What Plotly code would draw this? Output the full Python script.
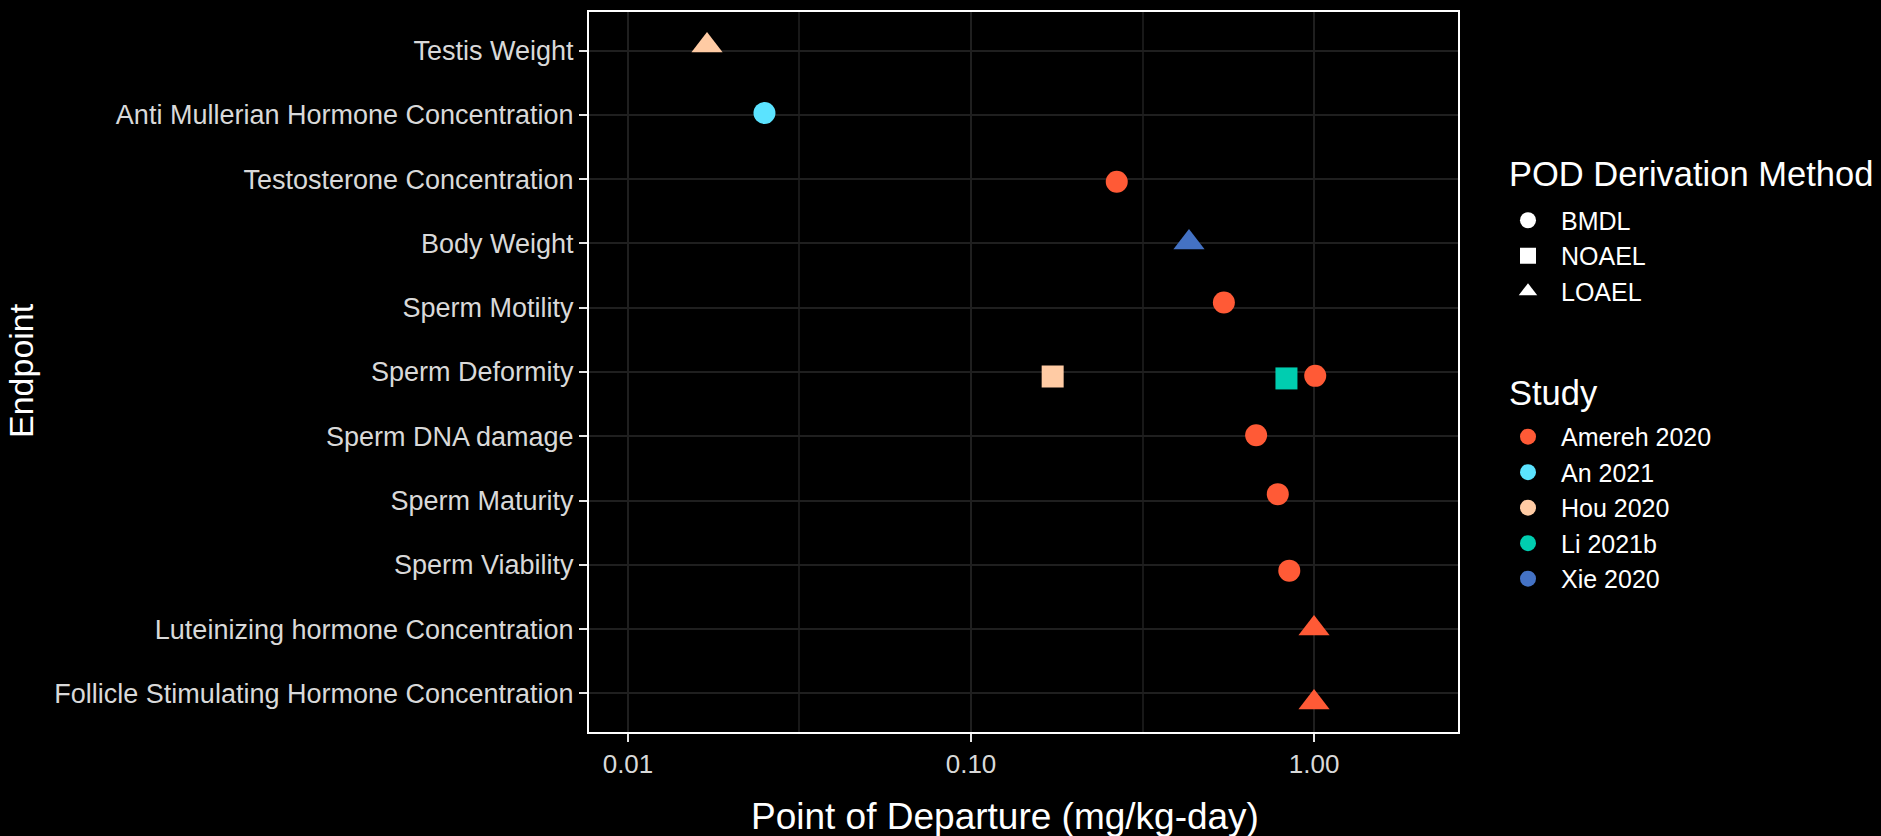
import plotly.graph_objects as go

# ---------------- data ----------------
endpoints = [
    "Testis Weight",
    "Anti Mullerian Hormone Concentration",
    "Testosterone Concentration",
    "Body Weight",
    "Sperm Motility",
    "Sperm Deformity",
    "Sperm DNA damage",
    "Sperm Maturity",
    "Sperm Viability",
    "Luteinizing hormone Concentration",
    "Follicle Stimulating Hormone Concentration",
]

point_endpoint = [
    "Testis Weight", "Anti Mullerian Hormone Concentration", "Testosterone Concentration",
    "Body Weight", "Sperm Motility", "Sperm Deformity", "Sperm Deformity", "Sperm Deformity",
    "Sperm DNA damage", "Sperm Maturity", "Sperm Viability",
    "Luteinizing hormone Concentration", "Follicle Stimulating Hormone Concentration",
]
point_study = [
    "Hou 2020", "An 2021", "Amereh 2020", "Xie 2020", "Amereh 2020", "Hou 2020", "Li 2021b",
    "Amereh 2020", "Amereh 2020", "Amereh 2020", "Amereh 2020", "Amereh 2020", "Amereh 2020",
]
point_method = [
    "LOAEL", "BMDL", "BMDL", "LOAEL", "BMDL", "NOAEL", "NOAEL",
    "BMDL", "BMDL", "BMDL", "BMDL", "LOAEL", "LOAEL",
]
point_pod = [0.017, 0.025, 0.266, 0.432, 0.546, 0.173, 0.831, 1.008, 0.678, 0.784, 0.847, 1.0, 1.0]
# vertical jitter (in category units, positive = downward)
y_jitter = [-0.08, -0.03, 0.04, -0.015, -0.08, 0.07, 0.10, 0.06, -0.015, -0.10, 0.09, -0.01, 0.14]

studies = ["Amereh 2020", "An 2021", "Hou 2020", "Li 2021b", "Xie 2020"]
study_colors = ["#FF5A36", "#5BE3FF", "#FFCBA4", "#00CDB0", "#4472C4"]
methods = ["BMDL", "NOAEL", "LOAEL"]
method_symbols = ["circle", "square", "triangle-up"]
method_sizes = [22, 22, 27]

x_tickvals = [0.01, 0.1, 1.0]
x_ticktext = ["0.01", "0.10", "1.00"]
x_minor = [10 ** -1.5, 10 ** -0.5]

shape_legend_title = "POD Derivation Method"
color_legend_title = "Study"
x_title = "Point of Departure (mg/kg-day)"
y_title = "Endpoint"

FONT = "Liberation Sans, Arial, sans-serif"
TICKC = "#D9D9D9"
GRID = "#1F1F1F"

fig = go.Figure()

sym_of = dict(zip(methods, method_symbols))
size_of = dict(zip(methods, method_sizes))
col_of = dict(zip(studies, study_colors))

for st in studies:
    idx = [i for i, s in enumerate(point_study) if s == st]
    fig.add_trace(go.Scatter(
        x=[point_pod[i] for i in idx],
        y=[endpoints.index(point_endpoint[i]) + y_jitter[i] for i in idx],
        mode="markers",
        marker=dict(
            color=col_of[st],
            symbol=[sym_of[point_method[i]] for i in idx],
            size=[size_of[point_method[i]] for i in idx],
            opacity=1,
            line=dict(width=0),
        ),
        showlegend=False,
        hovertext=[point_endpoint[i] for i in idx],
    ))

# legend: shapes
for m, sym in zip(methods, method_symbols):
    fig.add_trace(go.Scatter(
        x=[None], y=[None], mode="markers", name=m,
        marker=dict(color="white", symbol=sym, size=22, opacity=1),
        legend="legend",
    ))
# legend: studies
for st, c in zip(studies, study_colors):
    fig.add_trace(go.Scatter(
        x=[None], y=[None], mode="markers", name=st,
        marker=dict(color=c, symbol="circle", size=22, opacity=1),
        legend="legend2",
    ))

L, R, T, B = 589, 423, 10, 104
W, H = 1881, 836
pw = W - L - R
ph = H - T - B

def px_x(px):
    return (px - L) / pw

def px_y(py):
    return (H - B - py) / ph

legend_common = dict(
    font=dict(size=25, color="white", family=FONT),
    xanchor="left", yanchor="top",
    bgcolor="rgba(0,0,0,0)", itemsizing="trace", tracegroupgap=0, itemwidth=56,
)

fig.update_layout(
    width=W, height=H,
    margin=dict(l=L, r=R, t=T, b=B, pad=0),
    paper_bgcolor="black",
    plot_bgcolor="black",
    font=dict(family=FONT, color="white"),
    xaxis=dict(
        type="log",
        range=[-2.1136, 0.4197],
        tickvals=x_tickvals,
        ticktext=x_ticktext,
        tickfont=dict(size=26, color=TICKC, family=FONT),
        ticks="outside", ticklen=8, tickwidth=2, tickcolor="#E6E6E6",
        showgrid=True, gridcolor=GRID, gridwidth=2,
        minor=dict(tickvals=x_minor, showgrid=True, gridcolor="#181818", gridwidth=1.5, ticks=""),
        showline=True, linecolor="white", linewidth=2, mirror=True,
        zeroline=False,
    ),
    yaxis=dict(
        range=[10.6, -0.6],
        tickvals=list(range(len(endpoints))),
        ticktext=endpoints,
        tickfont=dict(size=27, color=TICKC, family=FONT),
        ticks="outside", ticklen=8, tickwidth=2, tickcolor="#E6E6E6",
        showgrid=True, gridcolor=GRID, gridwidth=2,
        showline=True, linecolor="white", linewidth=2, mirror=True,
        zeroline=False,
    ),
    legend=dict(x=px_x(1495), y=px_y(196), **legend_common),
    legend2=dict(x=px_x(1495), y=px_y(413), **legend_common),
    annotations=[
        dict(text=x_title, xref="paper", yref="paper",
             x=px_x(1005), y=px_y(817), xanchor="center", yanchor="middle",
             showarrow=False, font=dict(size=37, color="white", family=FONT)),
        dict(text=y_title, xref="paper", yref="paper",
             x=px_x(21), y=px_y(370), xanchor="center", yanchor="middle", textangle=-90,
             showarrow=False, font=dict(size=34, color="white", family=FONT)),
        dict(text=shape_legend_title, xref="paper", yref="paper",
             x=px_x(1507), y=px_y(172), xanchor="left", yanchor="middle",
             showarrow=False, font=dict(size=34.5, color="white", family=FONT)),
        dict(text=color_legend_title, xref="paper", yref="paper",
             x=px_x(1507), y=px_y(392), xanchor="left", yanchor="middle",
             showarrow=False, font=dict(size=34.5, color="white", family=FONT)),
    ],
)

fig.write_html(
    "out.html",
    config={"displayModeBar": False},
    post_script=(
        "document.documentElement.style.background='black';"
        "document.body.style.margin='0';document.body.style.padding='0';"
        "document.body.style.background='black';document.body.style.overflow='hidden';"
    ),
)
